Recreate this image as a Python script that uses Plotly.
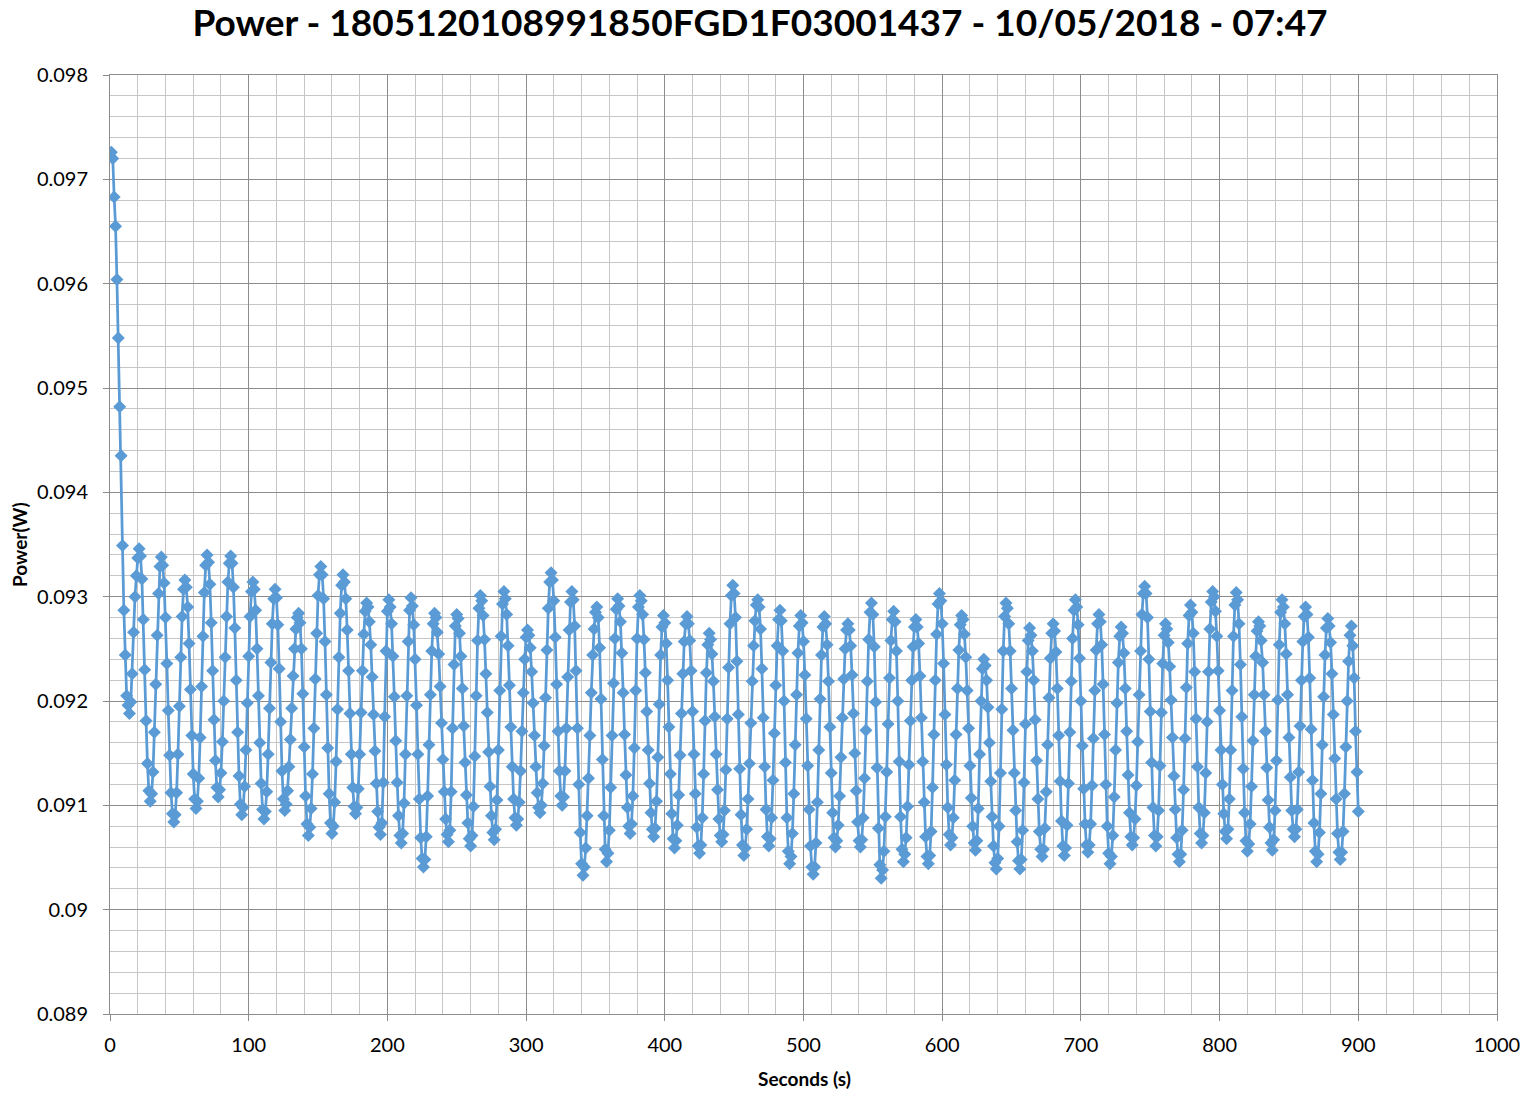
import plotly.graph_objects as go

title_text = "Power - 1805120108991850FGD1F03001437 - 10/05/2018 - 07:47"
x_title = "Seconds (s)"
y_title = "Power(W)"

# Power readings (W), one per second
power_w = [
    0.09726, 0.09720, 0.09683, 0.09655, 0.09604, 0.09548, 0.09482, 0.09435, 0.09349, 0.09287, 0.09244, 0.09205, 0.09196, 0.09188,
    0.09199, 0.09226, 0.09266, 0.09300, 0.09320, 0.09337, 0.09346,
    0.09339, 0.09317, 0.09278, 0.09230, 0.09181, 0.09140, 0.09114, 0.09104,
    0.09111, 0.09132, 0.09170, 0.09216, 0.09263, 0.09303, 0.09329, 0.09338,
    0.09330, 0.09313, 0.09280, 0.09236, 0.09191, 0.09148, 0.09112, 0.09092, 0.09084,
    0.09091, 0.09112, 0.09149, 0.09195, 0.09242, 0.09281, 0.09307, 0.09316,
    0.09309, 0.09290, 0.09255, 0.09211, 0.09167, 0.09130, 0.09106, 0.09097,
    0.09104, 0.09126, 0.09165, 0.09214, 0.09262, 0.09304, 0.09330, 0.09340,
    0.09333, 0.09312, 0.09275, 0.09229, 0.09182, 0.09143, 0.09117, 0.09108,
    0.09115, 0.09131, 0.09161, 0.09200, 0.09242, 0.09281, 0.09314, 0.09332, 0.09339,
    0.09332, 0.09309, 0.09270, 0.09220, 0.09170, 0.09128, 0.09101, 0.09091,
    0.09098, 0.09118, 0.09153, 0.09198, 0.09243, 0.09281, 0.09305, 0.09314,
    0.09307, 0.09287, 0.09250, 0.09205, 0.09160, 0.09121, 0.09096, 0.09087,
    0.09094, 0.09113, 0.09149, 0.09193, 0.09237, 0.09274, 0.09298, 0.09307,
    0.09299, 0.09273, 0.09231, 0.09180, 0.09133, 0.09106, 0.09095,
    0.09101, 0.09114, 0.09137, 0.09163, 0.09193, 0.09224, 0.09250, 0.09269, 0.09280, 0.09284,
    0.09275, 0.09250, 0.09207, 0.09156, 0.09109, 0.09082, 0.09071,
    0.09079, 0.09097, 0.09130, 0.09174, 0.09221, 0.09265, 0.09301, 0.09321, 0.09329,
    0.09321, 0.09298, 0.09257, 0.09206, 0.09155, 0.09111, 0.09083, 0.09073,
    0.09080, 0.09103, 0.09142, 0.09192, 0.09242, 0.09284, 0.09311, 0.09321,
    0.09314, 0.09298, 0.09268, 0.09229, 0.09188, 0.09149, 0.09117, 0.09099, 0.09092,
    0.09098, 0.09116, 0.09149, 0.09189, 0.09229, 0.09264, 0.09286, 0.09294,
    0.09290, 0.09276, 0.09254, 0.09223, 0.09187, 0.09152, 0.09121, 0.09094, 0.09079, 0.09072,
    0.09083, 0.09122, 0.09185, 0.09248, 0.09286, 0.09297,
    0.09290, 0.09274, 0.09243, 0.09204, 0.09162, 0.09122, 0.09090, 0.09071, 0.09064,
    0.09073, 0.09102, 0.09149, 0.09205, 0.09257, 0.09287, 0.09299,
    0.09291, 0.09273, 0.09240, 0.09196, 0.09149, 0.09106, 0.09069, 0.09049, 0.09041,
    0.09048, 0.09070, 0.09109, 0.09158, 0.09206, 0.09248, 0.09274, 0.09284,
    0.09280, 0.09266, 0.09245, 0.09214, 0.09179, 0.09144, 0.09113, 0.09087, 0.09072, 0.09065,
    0.09076, 0.09113, 0.09174, 0.09235, 0.09272, 0.09283,
    0.09279, 0.09265, 0.09243, 0.09212, 0.09176, 0.09141, 0.09110, 0.09083, 0.09068, 0.09061,
    0.09071, 0.09099, 0.09147, 0.09205, 0.09258, 0.09289, 0.09301,
    0.09296, 0.09282, 0.09259, 0.09226, 0.09189, 0.09151, 0.09118, 0.09090, 0.09074, 0.09067,
    0.09077, 0.09105, 0.09153, 0.09210, 0.09262, 0.09293, 0.09305,
    0.09298, 0.09283, 0.09253, 0.09215, 0.09175, 0.09137, 0.09106, 0.09088, 0.09081,
    0.09087, 0.09103, 0.09133, 0.09171, 0.09208, 0.09240, 0.09261, 0.09268,
    0.09263, 0.09251, 0.09228, 0.09198, 0.09167, 0.09137, 0.09112, 0.09098, 0.09093,
    0.09100, 0.09121, 0.09157, 0.09203, 0.09249, 0.09289, 0.09314, 0.09323,
    0.09316, 0.09296, 0.09261, 0.09216, 0.09171, 0.09133, 0.09109, 0.09100,
    0.09108, 0.09133, 0.09174, 0.09223, 0.09268, 0.09295, 0.09305,
    0.09297, 0.09272, 0.09229, 0.09174, 0.09120, 0.09074, 0.09044, 0.09033,
    0.09041, 0.09059, 0.09090, 0.09126, 0.09167, 0.09208, 0.09244, 0.09269, 0.09285, 0.09290,
    0.09280, 0.09251, 0.09202, 0.09144, 0.09090, 0.09058, 0.09046,
    0.09054, 0.09076, 0.09117, 0.09167, 0.09217, 0.09260, 0.09288, 0.09298,
    0.09291, 0.09276, 0.09246, 0.09208, 0.09168, 0.09129, 0.09098, 0.09080, 0.09073,
    0.09082, 0.09109, 0.09155, 0.09210, 0.09260, 0.09290, 0.09301,
    0.09296, 0.09283, 0.09259, 0.09227, 0.09190, 0.09153, 0.09121, 0.09093, 0.09077, 0.09070,
    0.09078, 0.09104, 0.09146, 0.09197, 0.09244, 0.09271, 0.09282,
    0.09275, 0.09255, 0.09220, 0.09175, 0.09130, 0.09092, 0.09068, 0.09059,
    0.09066, 0.09081, 0.09110, 0.09148, 0.09188, 0.09226, 0.09257, 0.09274, 0.09281,
    0.09274, 0.09258, 0.09229, 0.09190, 0.09149, 0.09111, 0.09079, 0.09061, 0.09054,
    0.09062, 0.09088, 0.09130, 0.09181, 0.09227, 0.09254, 0.09265,
    0.09259, 0.09245, 0.09219, 0.09185, 0.09149, 0.09115, 0.09087, 0.09071, 0.09065,
    0.09072, 0.09095, 0.09134, 0.09183, 0.09232, 0.09274, 0.09301, 0.09311,
    0.09303, 0.09280, 0.09238, 0.09187, 0.09135, 0.09091, 0.09062, 0.09052,
    0.09059, 0.09077, 0.09106, 0.09140, 0.09179, 0.09219, 0.09253, 0.09277, 0.09292, 0.09297,
    0.09290, 0.09269, 0.09231, 0.09184, 0.09137, 0.09096, 0.09070, 0.09061,
    0.09068, 0.09088, 0.09124, 0.09169, 0.09215, 0.09253, 0.09278, 0.09287,
    0.09277, 0.09248, 0.09200, 0.09141, 0.09088, 0.09056, 0.09044,
    0.09051, 0.09073, 0.09111, 0.09158, 0.09206, 0.09246, 0.09272, 0.09282,
    0.09275, 0.09257, 0.09225, 0.09183, 0.09138, 0.09096, 0.09061, 0.09041, 0.09034,
    0.09041, 0.09064, 0.09103, 0.09153, 0.09202, 0.09244, 0.09271, 0.09281,
    0.09274, 0.09254, 0.09219, 0.09175, 0.09131, 0.09093, 0.09069, 0.09060,
    0.09066, 0.09081, 0.09109, 0.09146, 0.09184, 0.09221, 0.09250, 0.09268, 0.09274,
    0.09268, 0.09253, 0.09225, 0.09188, 0.09150, 0.09114, 0.09084, 0.09066, 0.09060,
    0.09067, 0.09088, 0.09126, 0.09172, 0.09219, 0.09259, 0.09285, 0.09294,
    0.09283, 0.09252, 0.09199, 0.09136, 0.09078, 0.09043, 0.09030,
    0.09038, 0.09056, 0.09089, 0.09132, 0.09178, 0.09222, 0.09258, 0.09278, 0.09286,
    0.09276, 0.09248, 0.09200, 0.09142, 0.09089, 0.09058, 0.09046,
    0.09053, 0.09069, 0.09099, 0.09139, 0.09181, 0.09220, 0.09252, 0.09271, 0.09278,
    0.09271, 0.09255, 0.09224, 0.09184, 0.09142, 0.09103, 0.09070, 0.09051, 0.09044,
    0.09052, 0.09075, 0.09117, 0.09168, 0.09220, 0.09264, 0.09293, 0.09303,
    0.09296, 0.09274, 0.09236, 0.09187, 0.09139, 0.09098, 0.09072, 0.09062,
    0.09069, 0.09088, 0.09124, 0.09168, 0.09212, 0.09249, 0.09273, 0.09282,
    0.09278, 0.09264, 0.09242, 0.09210, 0.09174, 0.09138, 0.09107, 0.09080, 0.09064, 0.09057,
    0.09066, 0.09097, 0.09149, 0.09200, 0.09231, 0.09240,
    0.09234, 0.09220, 0.09194, 0.09160, 0.09123, 0.09089, 0.09061, 0.09045, 0.09039,
    0.09049, 0.09080, 0.09131, 0.09192, 0.09248, 0.09281, 0.09294,
    0.09289, 0.09274, 0.09248, 0.09212, 0.09172, 0.09131, 0.09095, 0.09065, 0.09047, 0.09039,
    0.09048, 0.09076, 0.09122, 0.09178, 0.09228, 0.09258, 0.09270,
    0.09263, 0.09248, 0.09220, 0.09182, 0.09143, 0.09106, 0.09075, 0.09058, 0.09051,
    0.09058, 0.09078, 0.09113, 0.09158, 0.09203, 0.09241, 0.09265, 0.09274,
    0.09267, 0.09247, 0.09212, 0.09167, 0.09123, 0.09085, 0.09061, 0.09052,
    0.09059, 0.09081, 0.09121, 0.09170, 0.09219, 0.09260, 0.09287, 0.09297,
    0.09290, 0.09273, 0.09241, 0.09200, 0.09157, 0.09116, 0.09082, 0.09062, 0.09055,
    0.09062, 0.09082, 0.09119, 0.09164, 0.09210, 0.09249, 0.09274, 0.09283,
    0.09276, 0.09254, 0.09216, 0.09168, 0.09120, 0.09080, 0.09054, 0.09044,
    0.09051, 0.09071, 0.09108, 0.09153, 0.09198, 0.09237, 0.09262, 0.09271,
    0.09265, 0.09246, 0.09212, 0.09171, 0.09129, 0.09093, 0.09070, 0.09062,
    0.09069, 0.09087, 0.09119, 0.09161, 0.09206, 0.09248, 0.09283, 0.09303, 0.09310,
    0.09303, 0.09280, 0.09240, 0.09190, 0.09141, 0.09098, 0.09071, 0.09061,
    0.09070, 0.09095, 0.09138, 0.09189, 0.09236, 0.09263, 0.09274,
    0.09269, 0.09256, 0.09233, 0.09201, 0.09165, 0.09128, 0.09096, 0.09069, 0.09053, 0.09046,
    0.09053, 0.09076, 0.09115, 0.09164, 0.09213, 0.09255, 0.09282, 0.09292,
    0.09285, 0.09265, 0.09228, 0.09183, 0.09137, 0.09098, 0.09073, 0.09064,
    0.09071, 0.09093, 0.09131, 0.09180, 0.09228, 0.09269, 0.09295, 0.09305,
    0.09300, 0.09286, 0.09262, 0.09229, 0.09191, 0.09153, 0.09120, 0.09092, 0.09075, 0.09068,
    0.09077, 0.09106, 0.09153, 0.09210, 0.09262, 0.09292, 0.09304,
    0.09297, 0.09274, 0.09235, 0.09185, 0.09135, 0.09093, 0.09066, 0.09056,
    0.09063, 0.09082, 0.09118, 0.09162, 0.09206, 0.09243, 0.09267, 0.09276,
    0.09272, 0.09258, 0.09237, 0.09206, 0.09171, 0.09136, 0.09105, 0.09079, 0.09064, 0.09057,
    0.09067, 0.09095, 0.09143, 0.09201, 0.09254, 0.09285, 0.09297,
    0.09290, 0.09274, 0.09245, 0.09206, 0.09165, 0.09127, 0.09095, 0.09077, 0.09070,
    0.09077, 0.09096, 0.09132, 0.09176, 0.09220, 0.09257, 0.09281, 0.09290,
    0.09283, 0.09261, 0.09222, 0.09173, 0.09124, 0.09083, 0.09056, 0.09046,
    0.09053, 0.09074, 0.09111, 0.09158, 0.09204, 0.09244, 0.09270, 0.09279,
    0.09272, 0.09256, 0.09226, 0.09187, 0.09145, 0.09106, 0.09073, 0.09055, 0.09048,
    0.09055, 0.09075, 0.09111, 0.09156, 0.09200, 0.09238, 0.09263, 0.09272,
    0.09253, 0.09222, 0.09171, 0.09132, 0.09094,
]
seconds = list(range(1, len(power_w) + 1))

y_tick_vals = [0.089, 0.090, 0.091, 0.092, 0.093, 0.094, 0.095, 0.096, 0.097, 0.098]
y_tick_text = ["0.089", "0.09", "0.091", "0.092", "0.093", "0.094", "0.095", "0.096", "0.097", "0.098"]
x_tick_vals = [0, 100, 200, 300, 400, 500, 600, 700, 800, 900, 1000]

LINE_COLOR = "#5B9BD5"
MAJOR = "#8C8C8C"
MINOR = "#C6C6C6"
FONT = "Lato"

FIG_W, FIG_H = 1525, 1096
M_L, M_T, M_R, M_B = 110, 75, 28, 82
PLOT_W, PLOT_H = FIG_W - M_L - M_R, FIG_H - M_T - M_B

fig = go.Figure()
fig.add_trace(go.Scatter(
    x=seconds, y=power_w, mode="lines+markers",
    line=dict(color=LINE_COLOR, width=2.75),
    marker=dict(symbol="diamond", size=10, color=LINE_COLOR),
    showlegend=False,
))

fig.update_layout(
    width=FIG_W, height=FIG_H,
    margin=dict(l=M_L, r=M_R, t=M_T, b=M_B, autoexpand=False),
    paper_bgcolor="white", plot_bgcolor="white",
    font=dict(family=FONT, color="black", size=20),
    title=dict(text=f"<b>{title_text}</b>", x=760 / FIG_W, xref="container", xanchor="center",
               y=1 - 23 / FIG_H, yref="container", yanchor="middle",
               font=dict(family=FONT, size=37, color="black")),
    xaxis=dict(range=[0, 1000], tickvals=x_tick_vals, showgrid=True, gridcolor=MAJOR, gridwidth=1,
               minor=dict(dtick=20, tick0=0, showgrid=True, gridcolor=MINOR, gridwidth=1),
               showline=True, linecolor=MAJOR, linewidth=1, mirror=True,
               ticks="outside", ticklen=6, tickcolor=MAJOR, ticklabelstandoff=7,
               zeroline=False, automargin=False, tickfont=dict(family=FONT, size=20)),
    yaxis=dict(range=[0.089, 0.098], tickvals=y_tick_vals, ticktext=y_tick_text,
               showgrid=True, gridcolor=MAJOR, gridwidth=1,
               minor=dict(dtick=0.0002, tick0=0.089, showgrid=True, gridcolor=MINOR, gridwidth=1),
               showline=True, linecolor=MAJOR, linewidth=1, mirror=True,
               ticks="outside", ticklen=6, tickcolor=MAJOR, ticklabelstandoff=11,
               zeroline=False, automargin=False, tickfont=dict(family=FONT, size=20)),
    annotations=[
        dict(text=f"<b>{x_title}</b>", xref="paper", yref="paper", x=(804 - M_L) / PLOT_W,
             y=-(1078 - (FIG_H - M_B)) / PLOT_H, xanchor="center", yanchor="middle", showarrow=False,
             font=dict(family=FONT, size=19, color="black")),
        dict(text=f"<b>{y_title}</b>", xref="paper", yref="paper", x=-(M_L - 19) / PLOT_W,
             y=((FIG_H - M_B) - 545) / PLOT_H, xanchor="center", yanchor="middle", showarrow=False,
             textangle=-90, font=dict(family=FONT, size=19, color="black")),
    ],
)

# Remove the browser's default page margin so the figure sits at the window's top-left corner.
fig.write_html("out.html", config={"displayModeBar": False},
               post_script="document.body.style.margin='0';document.body.style.overflow='hidden';")
